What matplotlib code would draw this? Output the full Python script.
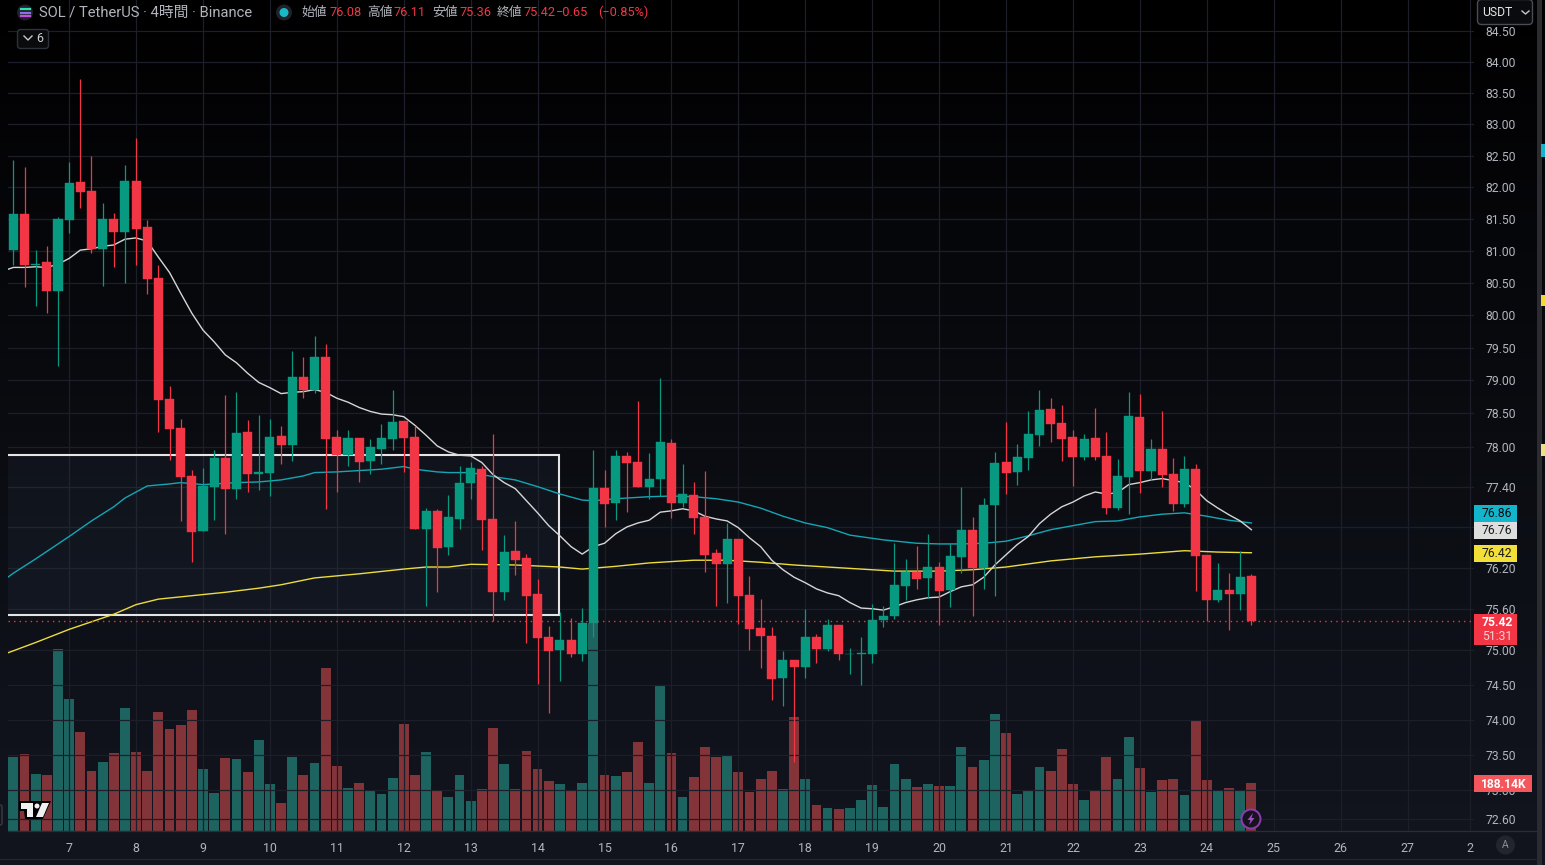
import numpy as np
import matplotlib
matplotlib.use('Agg')
import matplotlib.pyplot as plt
from matplotlib.colors import LinearSegmentedColormap
from matplotlib.patches import Rectangle, FancyBboxPatch, Circle, Polygon
from matplotlib.ticker import NullLocator

plt.rcParams['font.family'] = ['Roboto', 'Noto Sans CJK JP', 'DejaVu Sans']

# 1. Data (4h candles)
opens = [81.01, 81.58, 80.77, 80.82, 80.37, 81.48, 82.08, 81.94, 81.03, 81.50,
         81.30, 82.10, 81.37, 80.57, 78.72, 78.28, 77.56, 76.74, 77.40, 77.83,
         77.37, 78.22, 77.59, 77.61, 78.16, 78.02, 79.06, 78.85, 79.36, 78.14,
         77.87, 78.13, 77.78, 77.96, 78.11, 78.38, 78.14, 76.77, 77.04, 76.51,
         76.92, 77.46, 77.66, 76.92, 75.85, 76.44, 76.34, 75.82, 75.19, 75.00,
         75.14, 74.95, 75.39, 77.38, 77.16, 77.86, 77.77, 77.40, 77.52, 78.05,
         77.16, 77.28, 76.95, 76.42, 76.25, 76.62, 75.80, 75.32, 75.21, 74.60,
         74.85, 74.75, 75.19, 75.01, 75.36, 74.94, 74.94, 74.94, 75.43, 75.50,
         75.93, 76.14, 76.05, 76.21, 75.87, 76.36, 76.76, 76.19, 77.12, 77.77,
         77.62, 77.83, 78.17, 78.56, 78.35, 78.14, 77.84, 78.13, 77.86, 77.08,
         77.54, 78.44, 77.64, 77.96, 77.59, 77.14, 77.66, 76.39, 75.72, 75.87,
         75.82, 76.08]
closes = [81.58, 80.77, 80.80, 80.37, 81.50, 82.07, 81.92, 81.03, 81.50, 81.30,
          82.10, 81.34, 80.56, 78.70, 78.26, 77.54, 76.73, 77.41, 77.83, 77.37,
          78.20, 77.59, 77.62, 78.14, 78.02, 79.06, 78.85, 79.36, 78.11, 77.87,
          78.13, 77.77, 77.99, 78.13, 78.37, 78.13, 76.77, 77.04, 76.49, 76.95,
          77.46, 77.68, 76.90, 75.85, 76.43, 76.31, 75.79, 75.17, 74.98, 75.14,
          74.94, 75.39, 77.38, 77.14, 77.86, 77.76, 77.40, 77.52, 78.07, 77.16,
          77.29, 76.93, 76.39, 76.25, 76.62, 75.79, 75.30, 75.20, 74.58, 74.85,
          74.75, 75.19, 75.01, 75.37, 74.94, 74.95, 74.96, 75.43, 75.50, 75.95,
          76.14, 76.04, 76.21, 75.86, 76.37, 76.76, 76.19, 77.13, 77.76, 77.61,
          77.85, 78.19, 78.55, 78.34, 78.11, 77.84, 78.11, 77.84, 77.08, 77.56,
          78.46, 77.64, 77.96, 77.57, 77.14, 77.66, 76.37, 75.73, 75.87, 75.82,
          76.07, 75.42]
highs = [82.43, 82.32, 81.01, 81.07, 81.53, 82.40, 83.73, 82.49, 81.75, 81.59,
         82.35, 82.78, 81.48, 80.77, 78.91, 78.41, 77.65, 77.68, 77.95, 78.78,
         78.82, 78.40, 78.48, 78.42, 78.31, 79.45, 79.36, 79.68, 79.56, 78.25,
         78.25, 78.13, 78.11, 78.34, 78.86, 78.38, 78.31, 77.08, 77.07, 77.28,
         77.71, 77.77, 77.71, 78.19, 76.68, 76.89, 76.40, 76.04, 75.35, 75.55,
         75.47, 75.61, 77.95, 77.65, 77.95, 77.92, 78.69, 77.91, 79.03, 78.11,
         77.74, 77.47, 77.64, 76.48, 76.86, 76.62, 76.08, 75.74, 75.33, 74.98,
         74.86, 75.60, 75.23, 75.45, 75.36, 75.03, 75.19, 75.67, 75.64, 76.56,
         76.33, 76.52, 76.70, 76.28, 76.56, 77.40, 76.95, 77.23, 77.92, 78.37,
         78.04, 78.54, 78.86, 78.74, 78.62, 78.25, 78.19, 78.58, 78.22, 77.81,
         78.83, 78.80, 78.11, 78.54, 77.83, 77.86, 77.74, 76.39, 76.27, 76.12,
         76.45, 76.11]
lows = [80.77, 80.43, 80.14, 80.04, 79.22, 81.28, 81.67, 80.97, 80.45, 80.74,
        80.50, 80.77, 80.32, 78.22, 77.80, 76.89, 76.28, 76.74, 76.91, 76.70,
        77.22, 77.32, 77.35, 77.26, 77.74, 77.79, 78.74, 78.81, 77.06, 77.32,
        77.71, 77.47, 77.59, 77.74, 77.95, 77.62, 76.77, 75.64, 75.85, 76.39,
        76.77, 77.22, 76.46, 75.42, 75.72, 76.09, 75.10, 74.51, 74.10, 74.56,
        74.90, 74.84, 75.19, 76.80, 76.91, 77.02, 77.40, 77.22, 77.26, 76.93,
        77.10, 76.70, 76.14, 75.64, 75.69, 75.38, 75.00, 74.74, 74.28, 74.20,
        73.40, 74.60, 74.82, 74.98, 74.85, 74.66, 74.50, 74.82, 75.33, 75.45,
        75.73, 75.89, 75.76, 75.36, 75.63, 76.12, 75.49, 75.89, 75.79, 77.29,
        77.43, 77.65, 78.01, 78.07, 77.79, 77.41, 77.80, 77.80, 76.99, 77.05,
        77.00, 77.31, 77.50, 77.40, 77.04, 77.10, 75.86, 75.42, 75.70, 75.29,
        75.58, 75.36]
# volume in thousands
volumes = [289, 301, 223, 219, 710, 515, 387, 235, 270, 305,
           480, 309, 235, 465, 398, 414, 472, 243, 149, 286,
           282, 231, 356, 184, 110, 289, 219, 266, 636, 254,
           169, 188, 157, 145, 208, 418, 219, 309, 161, 134,
           219, 118, 165, 402, 262, 165, 313, 243, 196, 184,
           161, 188, 811, 219, 215, 231, 348, 188, 566, 305,
           134, 212, 328, 289, 293, 231, 153, 204, 235, 165,
           445, 204, 103, 91, 87, 91, 122, 180, 95, 262,
           204, 173, 184, 177, 177, 328, 251, 278, 457, 383,
           145, 161, 251, 235, 321, 184, 122, 157, 289, 204,
           367, 247, 153, 200, 204, 141, 434, 200, 161, 169,
           157, 188.14]

# moving averages, starting one candle before the first one
ma_white = [80.68, 80.74, 80.74, 80.75, 80.74, 80.79, 80.88, 81.01, 81.03, 81.07, 81.09,
            81.18, 81.20, 81.15, 80.90, 80.66, 80.34, 80.03, 79.77, 79.59, 79.39,
            79.27, 79.11, 78.97, 78.89, 78.80, 78.82, 78.83, 78.86, 78.82, 78.73,
            78.67, 78.59, 78.53, 78.49, 78.48, 78.45, 78.32, 78.17, 78.01, 77.92,
            77.87, 77.86, 77.76, 77.58, 77.46, 77.37, 77.19, 77.01, 76.82, 76.67,
            76.51, 76.40, 76.51, 76.56, 76.70, 76.80, 76.86, 76.90, 77.02, 77.04,
            77.07, 77.04, 76.96, 76.92, 76.89, 76.79, 76.64, 76.51, 76.31, 76.17,
            76.06, 75.98, 75.89, 75.83, 75.79, 75.69, 75.61, 75.60, 75.58, 75.63,
            75.69, 75.73, 75.76, 75.77, 75.85, 75.92, 75.95, 76.06, 76.24, 76.39,
            76.54, 76.66, 76.85, 76.99, 77.10, 77.17, 77.26, 77.32, 77.29, 77.31,
            77.43, 77.46, 77.50, 77.52, 77.49, 77.46, 77.35, 77.19, 77.08, 76.98,
            76.89, 76.76]
ma_teal_idx = [-1, 0, 2, 3, 5, 7, 9, 10, 11, 12, 14, 15, 17, 18, 20, 22, 24, 26, 27, 29,
               31, 33, 35, 36, 38, 39, 41, 43, 45, 47, 49, 51, 52, 54, 55, 57, 59, 61, 63, 65,
               67, 69, 71, 73, 75, 78, 81, 83, 85, 87, 89, 91, 93, 95, 97, 99, 101, 103, 105,
               107, 109, 111]
ma_teal = [76.00, 76.12, 76.33, 76.44, 76.66, 76.89, 77.10, 77.23, 77.32, 77.41, 77.44, 77.46,
           77.43, 77.44, 77.46, 77.47, 77.50, 77.56, 77.61, 77.62, 77.64, 77.66, 77.70, 77.66,
           77.62, 77.61, 77.61, 77.55, 77.50, 77.40, 77.29, 77.20, 77.19, 77.22, 77.23, 77.25,
           77.26, 77.25, 77.22, 77.17, 77.08, 76.96, 76.86, 76.79, 76.68, 76.61, 76.56, 76.55,
           76.55, 76.56, 76.59, 76.67, 76.76, 76.82, 76.88, 76.89, 76.95, 76.99, 77.01, 76.96,
           76.90, 76.86]
ma_yellow_idx = [-1, 2, 5, 9, 11, 13, 16, 19, 22, 24, 27, 31, 35, 37, 39, 41, 45, 49, 51, 54,
                 57, 61, 64, 67, 70, 73, 76, 79, 83, 86, 89, 93, 97, 101, 105, 108, 111]
ma_yellow = [74.93, 75.11, 75.30, 75.52, 75.66, 75.74, 75.79, 75.84, 75.90, 75.95, 76.05, 76.11,
             76.18, 76.21, 76.21, 76.25, 76.24, 76.21, 76.18, 76.22, 76.27, 76.31, 76.31, 76.28,
             76.24, 76.21, 76.18, 76.15, 76.15, 76.17, 76.21, 76.30, 76.36, 76.40, 76.45, 76.43,
             76.42]

day_ticks = [5, 11, 17, 23, 29, 35, 41, 47, 53, 59, 65, 71, 77, 83, 89, 95, 101, 107, 113, 119, 125, 130.6]
day_labels = ['7', '8', '9', '10', '11', '12', '13', '14', '15', '16', '17', '18', '19', '20', '21',
              '22', '23', '24', '25', '26', '27', '2']
price_ticks = [84.5, 84, 83.5, 83, 82.5, 82, 81.5, 81, 80.5, 80, 79.5, 79, 78.5, 78, 77.4, 76.8,
               76.2, 75.6, 75, 74.5, 74, 73.5, 73, 72.6]

GREEN = '#089981'
RED = '#f23645'
W, H = 1545, 865

# 2. Figure and axes (positions worked out in pixels)
fig = plt.figure(figsize=(W / 100, H / 100), dpi=100, facecolor='#0a0b0f')
rect = [8 / W, (H - 831) / H, (1474 - 8) / W, 831 / H]

bg = fig.add_axes([0, 0, 1, 1], zorder=0)
cmap = LinearSegmentedColormap.from_list('bg', [(0, '#000000'), (0.12, '#030305'), (0.5, '#0a0c11'),
                                                (0.8, '#0f121a'), (1, '#12151d')])
bg.imshow(np.linspace(0, 1, 256).reshape(-1, 1), aspect='auto', cmap=cmap, extent=[0, 1, 0, 1], origin='upper')
bg.axis('off')

x = np.arange(len(opens))
opens = np.array(opens)
closes = np.array(closes)
highs = np.array(highs)
lows = np.array(lows)
up = closes >= opens
x_left = -(13.4 - 8) / 11.153
x_right = x_left + (1474 - 8) / 11.153

# Volume panel
vol_ax = fig.add_axes(rect, zorder=1)
vol_ax.patch.set_alpha(0)
vol_ax.bar(x, volumes, width=0.88, color=np.where(up, '#1d6460', '#833439'))
vol_ax.set_xlim(x_left, x_right)
vol_ax.set_ylim(0, 831 * 3.895)
vol_ax.axis('off')

# Price panel
ax = fig.add_axes(rect, zorder=2)
ax.patch.set_alpha(0)
ax.set_yscale('log')
ax.set_xlim(x_left, x_right)
ax.set_ylim(72.43, 85.01)
ax.set_yticks(price_ticks, [f'{p:.2f}' for p in price_ticks])
ax.yaxis.set_minor_locator(NullLocator())
ax.yaxis.tick_right()
ax.set_xticks(day_ticks, day_labels)
ax.tick_params(axis='y', length=0, pad=8, labelsize=8.7, labelcolor='#b2b5be')
ax.tick_params(axis='x', length=0, pad=8, labelsize=8.9, labelcolor='#b2b5be')
ax.grid(True, color='#1c1f29', linewidth=0.9)
ax.set_axisbelow(True)
for s in ax.spines.values():
    s.set_visible(False)

# White zone box
ax.add_patch(Rectangle((-2, 75.51), 50.9, 77.87 - 75.51, facecolor=(0.5, 0.65, 0.9, 0.05),
                       edgecolor='#e4e4e4', linewidth=1.5, zorder=1.5))

# Moving averages
ax.plot(ma_teal_idx, ma_teal, color='#14a6b4', linewidth=1.0, zorder=2)
ax.plot(ma_yellow_idx, ma_yellow, color='#ecdc3e', linewidth=1.0, zorder=2)
ax.plot(np.arange(-1, len(opens)), ma_white, color='#d6d6d6', linewidth=1.0, zorder=2)

# Candles
colors = np.where(up, GREEN, RED)
ax.vlines(x, lows, highs, colors=colors, linewidth=0.9, zorder=3)
ax.bar(x, np.abs(closes - opens), bottom=np.minimum(opens, closes), width=0.81, color=colors,
       edgecolor=colors, linewidth=0.3, zorder=4)

# Last price line
ax.axhline(75.42, color=RED, linewidth=1.0, linestyle=(0, (1, 3)), zorder=5)

# 3. Overlay in pixel coordinates: header, price tags, buttons
ov = fig.add_axes([0, 0, 1, 1], zorder=3)
ov.set_xlim(0, W)
ov.set_ylim(H, 0)
ov.axis('off')
ov.patch.set_alpha(0)

# lines of the time axis and scroll strip
ov.plot([8, 1537], [831, 831], color='#2a2d35', linewidth=1)
ov.plot([0, 1537], [859, 859], color='#23262e', linewidth=1)
ov.add_patch(Rectangle((1537, 0), 5, H, facecolor='#2b2c30', edgecolor='none'))
for y0, y1, c in [(144, 157, '#12b5cb'), (295, 306, '#f2d93a'), (444, 456, '#efe08a')]:
    ov.add_patch(Rectangle((1541, y0), 4, y1 - y0, facecolor=c, edgecolor='none'))

# price tags
tags = [(505, 522, '#12b5cb', '76.86', '#0b0b0b'), (522, 539, '#dedede', '76.76', '#1a1a1a'),
        (545, 562, '#f2df38', '76.42', '#1a1a1a')]
for y0, y1, c, txt, tc in tags:
    ov.add_patch(Rectangle((1474, y0), 43, y1 - y0, facecolor=c, edgecolor='none'))
    ov.text(1497, (y0 + y1) / 2, txt, color=tc, fontsize=8.7, ha='center', va='center')
ov.add_patch(Rectangle((1474, 614), 43, 31, facecolor=RED, edgecolor='none'))
ov.text(1497, 622.5, '75.42', color='white', fontsize=8.7, ha='center', va='center', fontweight='bold')
ov.text(1497, 637, '51:31', color='#f3d5d8', fontsize=8.7, ha='center', va='center')
ov.add_patch(Rectangle((1474, 775), 58, 17, facecolor='#f4565c', edgecolor='none'))
ov.text(1503, 784, '188.14K', color='white', fontsize=8.7, ha='center', va='center', fontweight='bold')

# header
ov.add_patch(Circle((25, 12.5), 8, facecolor='#1f2229', edgecolor='none'))
for yy, c in [(9, '#35e0b0'), (12.5, '#8f6be8'), (16, '#c44fe0')]:
    ov.plot([21, 30], [yy, yy], color=c, linewidth=1.6)
ov.text(39, 12.5, 'SOL / TetherUS · 4時間 · Binance', color='#b2b5be', fontsize=10.6, va='center')
ov.add_patch(Circle((284, 12.5), 8, facecolor='#1f2229', edgecolor='none'))
ov.add_patch(Circle((284, 12.5), 4.5, facecolor='#1ab8c4', edgecolor='none'))
header = [(301, '始値', '#b2b5be'), (329, '76.08', RED), (367, '高値', '#b2b5be'), (394, '76.11', RED),
          (432, '安値', '#b2b5be'), (459, '75.36', RED), (497, '終値', '#b2b5be'), (523, '75.42', RED),
          (556, '−0.65', RED), (598, '(−0.85%)', RED)]
for hx, txt, c in header:
    ov.text(hx, 12.5, txt, color=c, fontsize=9.2, va='center')

# "6" indicator button
ov.add_patch(FancyBboxPatch((19, 31), 28, 16, boxstyle='round,pad=1.5,rounding_size=3', facecolor='#0a0b0d',
                            edgecolor='#2f323b', linewidth=1))
ov.plot([24, 28, 32], [36, 40, 36], color='#c8c8c8', linewidth=1)
ov.text(40, 38.5, '6', color='#d0d0d0', fontsize=9, ha='center', va='center')

# USDT button
ov.add_patch(FancyBboxPatch((1479, 1), 52, 22, boxstyle='round,pad=1.5,rounding_size=4', facecolor='#0a0b0e',
                            edgecolor='#4a4c54', linewidth=1))
ov.text(1482, 12, 'USDT', color='#e6e6e6', fontsize=8.7, va='center')
ov.plot([1522, 1525.5, 1529], [11, 14, 11], color='#c8c8c8', linewidth=1)

# TradingView logo
ov.add_patch(Polygon([(19, 801), (51, 801), (43, 819), (25, 819), (24, 811), (19, 811)], facecolor='#000000',
                     edgecolor='none'))
ov.add_patch(Polygon([(21, 803), (33, 803), (33, 817), (27, 817), (27, 809), (21, 809)], facecolor='#f0f0f0',
                     edgecolor='none'))
ov.add_patch(Circle((37, 806), 2.5, facecolor='#f0f0f0', edgecolor='none'))
ov.add_patch(Polygon([(42, 803), (49, 803), (43, 817), (36, 817)], facecolor='#f0f0f0', edgecolor='none'))
ov.add_patch(FancyBboxPatch((-3, 805), 5, 20, boxstyle='round,pad=0,rounding_size=2', facecolor='none',
                            edgecolor='#3a3d45', linewidth=1))

# Bolt marker and auto-scale button
ov.add_patch(Circle((1251, 819), 9.5, facecolor='#16131f', edgecolor='#8e3bb0', linewidth=1.4))
ov.add_patch(Polygon([(1253, 813), (1247.5, 820), (1250.5, 820), (1249, 825), (1254.5, 818), (1251.5, 818)],
                     facecolor='#a04cc4', edgecolor='none'))
ov.add_patch(Circle((1505.5, 845), 9.5, facecolor='#22252d', edgecolor='none'))
ov.text(1505.5, 845.5, 'A', color='#8d9099', fontsize=7.5, ha='center', va='center')

fig.savefig('out.png', dpi=100, facecolor=fig.get_facecolor())
